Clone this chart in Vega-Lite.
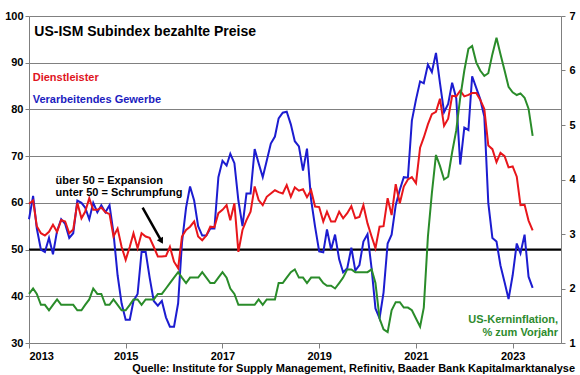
{
  "$schema": "https://vega.github.io/schema/vega-lite/v6.json",
  "width": 532,
  "height": 327,
  "autosize": {"type": "none"},
  "padding": {"left": 29, "top": 16, "right": 19, "bottom": 32},
  "background": "#ffffff",
  "config": {
    "font": "Liberation Sans",
    "view": {"stroke": null},
    "axis": {"labelFont": "Liberation Sans", "labelFontSize": 11, "labelFontWeight": "bold", "labelColor": "#000000", "domainColor": "#7f7f7f", "tickColor": "#7f7f7f", "domainWidth": 1, "tickWidth": 1}
  },
  "title": {"text": "Quelle: Institute for Supply Management, Refinitiv, Baader Bank Kapitalmarktanalyse", "orient": "bottom", "anchor": "end", "frame": "bounds", "fontSize": 11, "fontWeight": "bold", "color": "#000000", "font": "Liberation Sans", "offset": 2},
  "data": {"values": [
    {"date": "2013-01-01", "services": 59.8, "manufacturing": 56.5, "core": 1.9},
    {"date": "2013-02-01", "services": 60.5, "manufacturing": 61.5, "core": 2.0},
    {"date": "2013-03-01", "services": 55.0, "manufacturing": 54.5, "core": 1.9},
    {"date": "2013-04-01", "services": 53.5, "manufacturing": 50.0, "core": 1.7},
    {"date": "2013-05-01", "services": 53.0, "manufacturing": 49.5, "core": 1.7},
    {"date": "2013-06-01", "services": 53.8, "manufacturing": 52.5, "core": 1.6},
    {"date": "2013-07-01", "services": 55.3, "manufacturing": 49.0, "core": 1.7},
    {"date": "2013-08-01", "services": 53.8, "manufacturing": 54.0, "core": 1.8},
    {"date": "2013-09-01", "services": 56.3, "manufacturing": 56.5, "core": 1.7},
    {"date": "2013-10-01", "services": 56.0, "manufacturing": 55.5, "core": 1.7},
    {"date": "2013-11-01", "services": 53.5, "manufacturing": 52.5, "core": 1.7},
    {"date": "2013-12-01", "services": 54.3, "manufacturing": 53.5, "core": 1.7},
    {"date": "2014-01-01", "services": 60.0, "manufacturing": 60.5, "core": 1.6},
    {"date": "2014-02-01", "services": 56.7, "manufacturing": 60.0, "core": 1.6},
    {"date": "2014-03-01", "services": 58.1, "manufacturing": 59.0, "core": 1.7},
    {"date": "2014-04-01", "services": 61.0, "manufacturing": 56.5, "core": 1.8},
    {"date": "2014-05-01", "services": 58.5, "manufacturing": 60.0, "core": 2.0},
    {"date": "2014-06-01", "services": 58.5, "manufacturing": 58.0, "core": 1.9},
    {"date": "2014-07-01", "services": 59.0, "manufacturing": 59.5, "core": 1.9},
    {"date": "2014-08-01", "services": 58.0, "manufacturing": 58.0, "core": 1.7},
    {"date": "2014-09-01", "services": 57.6, "manufacturing": 59.5, "core": 1.7},
    {"date": "2014-10-01", "services": 52.8, "manufacturing": 53.5, "core": 1.8},
    {"date": "2014-11-01", "services": 54.5, "manufacturing": 44.5, "core": 1.7},
    {"date": "2014-12-01", "services": 50.6, "manufacturing": 38.5, "core": 1.6},
    {"date": "2015-01-01", "services": 47.8, "manufacturing": 35.0, "core": 1.6},
    {"date": "2015-02-01", "services": 50.6, "manufacturing": 35.0, "core": 1.7},
    {"date": "2015-03-01", "services": 53.5, "manufacturing": 39.0, "core": 1.8},
    {"date": "2015-04-01", "services": 50.3, "manufacturing": 40.5, "core": 1.8},
    {"date": "2015-05-01", "services": 53.5, "manufacturing": 49.5, "core": 1.7},
    {"date": "2015-06-01", "services": 52.8, "manufacturing": 49.5, "core": 1.8},
    {"date": "2015-07-01", "services": 52.5, "manufacturing": 44.0, "core": 1.8},
    {"date": "2015-08-01", "services": 50.6, "manufacturing": 39.0, "core": 1.8},
    {"date": "2015-09-01", "services": 48.5, "manufacturing": 38.0, "core": 1.9},
    {"date": "2015-10-01", "services": 48.5, "manufacturing": 39.0, "core": 1.9},
    {"date": "2015-11-01", "services": 48.6, "manufacturing": 35.5, "core": 2.0},
    {"date": "2015-12-01", "services": 50.6, "manufacturing": 33.5, "core": 2.1},
    {"date": "2016-01-01", "services": 47.4, "manufacturing": 33.5, "core": 2.2},
    {"date": "2016-02-01", "services": 46.0, "manufacturing": 38.5, "core": 2.3},
    {"date": "2016-03-01", "services": 52.8, "manufacturing": 51.5, "core": 2.2},
    {"date": "2016-04-01", "services": 54.2, "manufacturing": 59.0, "core": 2.1},
    {"date": "2016-05-01", "services": 54.9, "manufacturing": 63.5, "core": 2.2},
    {"date": "2016-06-01", "services": 56.0, "manufacturing": 60.5, "core": 2.2},
    {"date": "2016-07-01", "services": 52.8, "manufacturing": 55.0, "core": 2.2},
    {"date": "2016-08-01", "services": 52.0, "manufacturing": 53.0, "core": 2.3},
    {"date": "2016-09-01", "services": 53.0, "manufacturing": 53.0, "core": 2.2},
    {"date": "2016-10-01", "services": 54.9, "manufacturing": 54.5, "core": 2.1},
    {"date": "2016-11-01", "services": 54.8, "manufacturing": 54.5, "core": 2.1},
    {"date": "2016-12-01", "services": 57.8, "manufacturing": 65.5, "core": 2.2},
    {"date": "2017-01-01", "services": 58.5, "manufacturing": 69.0, "core": 2.3},
    {"date": "2017-02-01", "services": 59.5, "manufacturing": 68.0, "core": 2.2},
    {"date": "2017-03-01", "services": 56.3, "manufacturing": 70.5, "core": 2.0},
    {"date": "2017-04-01", "services": 59.9, "manufacturing": 68.5, "core": 1.9},
    {"date": "2017-05-01", "services": 49.5, "manufacturing": 60.5, "core": 1.7},
    {"date": "2017-06-01", "services": 54.2, "manufacturing": 55.0, "core": 1.7},
    {"date": "2017-07-01", "services": 56.3, "manufacturing": 62.0, "core": 1.7},
    {"date": "2017-08-01", "services": 58.1, "manufacturing": 62.0, "core": 1.7},
    {"date": "2017-09-01", "services": 63.5, "manufacturing": 71.5, "core": 1.7},
    {"date": "2017-10-01", "services": 60.6, "manufacturing": 68.5, "core": 1.8},
    {"date": "2017-11-01", "services": 59.5, "manufacturing": 65.5, "core": 1.7},
    {"date": "2017-12-01", "services": 61.3, "manufacturing": 69.0, "core": 1.8},
    {"date": "2018-01-01", "services": 62.0, "manufacturing": 72.7, "core": 1.8},
    {"date": "2018-02-01", "services": 62.7, "manufacturing": 74.2, "core": 1.8},
    {"date": "2018-03-01", "services": 62.3, "manufacturing": 78.1, "core": 2.1},
    {"date": "2018-04-01", "services": 62.0, "manufacturing": 79.3, "core": 2.1},
    {"date": "2018-05-01", "services": 63.8, "manufacturing": 79.5, "core": 2.2},
    {"date": "2018-06-01", "services": 61.3, "manufacturing": 76.8, "core": 2.3},
    {"date": "2018-07-01", "services": 63.3, "manufacturing": 73.2, "core": 2.35},
    {"date": "2018-08-01", "services": 62.6, "manufacturing": 72.1, "core": 2.2},
    {"date": "2018-09-01", "services": 62.9, "manufacturing": 66.9, "core": 2.2},
    {"date": "2018-10-01", "services": 61.2, "manufacturing": 71.6, "core": 2.1},
    {"date": "2018-11-01", "services": 62.7, "manufacturing": 60.7, "core": 2.2},
    {"date": "2018-12-01", "services": 59.2, "manufacturing": 54.9, "core": 2.2},
    {"date": "2019-01-01", "services": 59.1, "manufacturing": 49.6, "core": 2.2},
    {"date": "2019-02-01", "services": 56.0, "manufacturing": 49.4, "core": 2.1},
    {"date": "2019-03-01", "services": 58.1, "manufacturing": 54.3, "core": 2.05},
    {"date": "2019-04-01", "services": 56.0, "manufacturing": 50.0, "core": 2.05},
    {"date": "2019-05-01", "services": 56.0, "manufacturing": 53.2, "core": 2.0},
    {"date": "2019-06-01", "services": 58.1, "manufacturing": 47.9, "core": 2.1},
    {"date": "2019-07-01", "services": 56.7, "manufacturing": 45.1, "core": 2.2},
    {"date": "2019-08-01", "services": 57.8, "manufacturing": 46.0, "core": 2.35},
    {"date": "2019-09-01", "services": 59.3, "manufacturing": 50.4, "core": 2.35},
    {"date": "2019-10-01", "services": 56.7, "manufacturing": 45.5, "core": 2.3},
    {"date": "2019-11-01", "services": 57.0, "manufacturing": 46.7, "core": 2.3},
    {"date": "2019-12-01", "services": 59.5, "manufacturing": 51.7, "core": 2.3},
    {"date": "2020-01-01", "services": 55.6, "manufacturing": 53.3, "core": 2.3},
    {"date": "2020-02-01", "services": 52.8, "manufacturing": 45.9, "core": 2.35},
    {"date": "2020-03-01", "services": 50.3, "manufacturing": 37.4, "core": 2.1},
    {"date": "2020-04-01", "services": 54.9, "manufacturing": 35.3, "core": 1.45},
    {"date": "2020-05-01", "services": 55.0, "manufacturing": 40.8, "core": 1.25},
    {"date": "2020-06-01", "services": 61.0, "manufacturing": 51.3, "core": 1.2},
    {"date": "2020-07-01", "services": 57.4, "manufacturing": 53.2, "core": 1.6},
    {"date": "2020-08-01", "services": 64.0, "manufacturing": 59.5, "core": 1.75},
    {"date": "2020-09-01", "services": 59.9, "manufacturing": 62.8, "core": 1.75},
    {"date": "2020-10-01", "services": 63.5, "manufacturing": 65.5, "core": 1.65},
    {"date": "2020-11-01", "services": 65.0, "manufacturing": 65.4, "core": 1.65},
    {"date": "2020-12-01", "services": 65.5, "manufacturing": 77.6, "core": 1.6},
    {"date": "2021-01-01", "services": 64.2, "manufacturing": 82.1, "core": 1.45},
    {"date": "2021-02-01", "services": 71.8, "manufacturing": 86.0, "core": 1.3},
    {"date": "2021-03-01", "services": 74.0, "manufacturing": 85.6, "core": 1.65},
    {"date": "2021-04-01", "services": 76.8, "manufacturing": 89.6, "core": 2.95},
    {"date": "2021-05-01", "services": 79.0, "manufacturing": 88.0, "core": 3.75},
    {"date": "2021-06-01", "services": 79.5, "manufacturing": 92.1, "core": 4.45},
    {"date": "2021-07-01", "services": 82.3, "manufacturing": 85.7, "core": 4.25},
    {"date": "2021-08-01", "services": 76.5, "manufacturing": 79.4, "core": 4.0},
    {"date": "2021-09-01", "services": 78.0, "manufacturing": 81.2, "core": 4.05},
    {"date": "2021-10-01", "services": 82.9, "manufacturing": 85.7, "core": 4.5},
    {"date": "2021-11-01", "services": 82.8, "manufacturing": 82.4, "core": 4.9},
    {"date": "2021-12-01", "services": 84.0, "manufacturing": 68.2, "core": 5.5},
    {"date": "2022-01-01", "services": 82.8, "manufacturing": 76.1, "core": 6.0},
    {"date": "2022-02-01", "services": 83.1, "manufacturing": 75.6, "core": 6.4},
    {"date": "2022-03-01", "services": 83.5, "manufacturing": 87.1, "core": 6.45},
    {"date": "2022-04-01", "services": 83.5, "manufacturing": 84.6, "core": 6.15},
    {"date": "2022-05-01", "services": 82.1, "manufacturing": 82.2, "core": 6.0},
    {"date": "2022-06-01", "services": 80.1, "manufacturing": 78.5, "core": 5.9},
    {"date": "2022-07-01", "services": 72.3, "manufacturing": 60.0, "core": 5.95},
    {"date": "2022-08-01", "services": 71.5, "manufacturing": 52.5, "core": 6.3},
    {"date": "2022-09-01", "services": 68.7, "manufacturing": 51.7, "core": 6.6},
    {"date": "2022-10-01", "services": 70.7, "manufacturing": 46.6, "core": 6.3},
    {"date": "2022-11-01", "services": 70.0, "manufacturing": 43.0, "core": 6.0},
    {"date": "2022-12-01", "services": 67.6, "manufacturing": 39.4, "core": 5.7},
    {"date": "2023-01-01", "services": 67.8, "manufacturing": 44.5, "core": 5.6},
    {"date": "2023-02-01", "services": 65.6, "manufacturing": 51.3, "core": 5.55},
    {"date": "2023-03-01", "services": 59.5, "manufacturing": 49.2, "core": 5.58},
    {"date": "2023-04-01", "services": 59.6, "manufacturing": 53.2, "core": 5.5},
    {"date": "2023-05-01", "services": 56.2, "manufacturing": 44.2, "core": 5.3},
    {"date": "2023-06-01", "services": 54.1, "manufacturing": 41.8, "core": 4.8}
  ]},
  "layer": [
    {
      "layer": [
        {
          "data": {"values": [{}]},
          "mark": {"type": "rule", "color": "#000000", "strokeWidth": 2},
          "encoding": {"y": {"datum": 50, "type": "quantitative", "scale": {"domain": [30, 100]}}}
        },
        {
          "mark": {"type": "line", "color": "#1c1cd0", "strokeWidth": 2},
          "encoding": {
            "x": {"field": "date", "type": "temporal", "title": null,
              "scale": {"type": "utc", "domain": [{"year": 2013, "month": 1, "date": 1, "utc": true}, {"year": 2024, "month": 1, "date": 1, "utc": true}]},
              "axis": {"values": [{"year": 2013, "utc": true}, {"year": 2015, "utc": true}, {"year": 2017, "utc": true}, {"year": 2019, "utc": true}, {"year": 2021, "utc": true}, {"year": 2023, "utc": true}], "format": "%Y", "grid": false, "tickSize": 5, "labelPadding": 2}},
            "y": {"field": "manufacturing", "type": "quantitative", "title": null,
              "scale": {"domain": [30, 100]},
              "axis": {"values": [30, 40, 50, 60, 70, 80, 90, 100], "grid": true, "gridColor": "#808080", "gridWidth": 1, "tickSize": 4, "labelPadding": 2}}
          }
        },
        {
          "mark": {"type": "line", "color": "#e8161b", "strokeWidth": 2},
          "encoding": {
            "x": {"field": "date", "type": "temporal", "title": null},
            "y": {"field": "services", "type": "quantitative", "title": null, "scale": {"domain": [30, 100]}}
          }
        },
        {
          "data": {"values": [{}]},
          "mark": {"type": "rule", "color": "#000000", "strokeWidth": 2.5},
          "encoding": {
            "x": {"datum": {"year": 2015, "month": 5, "date": 9, "utc": true}, "type": "temporal"},
            "x2": {"datum": {"year": 2015, "month": 9, "date": 24, "utc": true}},
            "y": {"datum": 59.0, "type": "quantitative", "scale": {"domain": [30, 100]}},
            "y2": {"datum": 52.0}
          }
        },
        {
          "data": {"values": [{}]},
          "mark": {"type": "point", "shape": "triangle", "filled": true, "size": 50, "angle": 151, "color": "#000000", "opacity": 1},
          "encoding": {
            "x": {"datum": {"year": 2015, "month": 9, "date": 24, "utc": true}, "type": "temporal"},
            "y": {"datum": 52.0, "type": "quantitative", "scale": {"domain": [30, 100]}}
          }
        },
        {
          "data": {"values": [{}]},
          "mark": {"type": "text", "text": "US-ISM Subindex bezahlte Preise", "fontSize": 14, "fontWeight": "bold", "align": "left", "baseline": "alphabetic", "color": "#000000"},
          "encoding": {
            "x": {"datum": {"year": 2013, "month": 2, "date": 10, "utc": true}, "type": "temporal"},
            "y": {"datum": 95.7, "type": "quantitative", "scale": {"domain": [30, 100]}}
          }
        },
        {
          "data": {"values": [{}]},
          "mark": {"type": "text", "text": "Dienstleister", "fontSize": 11, "fontWeight": "bold", "align": "left", "baseline": "alphabetic", "color": "#e0141e"},
          "encoding": {
            "x": {"datum": {"year": 2013, "month": 1, "date": 29, "utc": true}, "type": "temporal"},
            "y": {"datum": 86.1, "type": "quantitative", "scale": {"domain": [30, 100]}}
          }
        },
        {
          "data": {"values": [{}]},
          "mark": {"type": "text", "text": "Verarbeitendes Gewerbe", "fontSize": 11, "fontWeight": "bold", "align": "left", "baseline": "alphabetic", "color": "#1c1cc0"},
          "encoding": {
            "x": {"datum": {"year": 2013, "month": 1, "date": 29, "utc": true}, "type": "temporal"},
            "y": {"datum": 81.4, "type": "quantitative", "scale": {"domain": [30, 100]}}
          }
        },
        {
          "data": {"values": [{}]},
          "mark": {"type": "text", "text": "über 50 = Expansion", "fontSize": 11, "fontWeight": "bold", "align": "left", "baseline": "alphabetic", "color": "#000000"},
          "encoding": {
            "x": {"datum": {"year": 2013, "month": 7, "date": 21, "utc": true}, "type": "temporal"},
            "y": {"datum": 64.0, "type": "quantitative", "scale": {"domain": [30, 100]}}
          }
        },
        {
          "data": {"values": [{}]},
          "mark": {"type": "text", "text": "unter 50 = Schrumpfung", "fontSize": 11, "fontWeight": "bold", "align": "left", "baseline": "alphabetic", "color": "#000000"},
          "encoding": {
            "x": {"datum": {"year": 2013, "month": 7, "date": 21, "utc": true}, "type": "temporal"},
            "y": {"datum": 61.5, "type": "quantitative", "scale": {"domain": [30, 100]}}
          }
        },
        {
          "data": {"values": [{}]},
          "mark": {"type": "text", "text": "US-Kerninflation,", "fontSize": 11, "fontWeight": "bold", "align": "right", "baseline": "alphabetic", "color": "#2e8b2e"},
          "encoding": {
            "x": {"datum": {"year": 2023, "month": 12, "date": 10, "utc": true}, "type": "temporal"},
            "y": {"datum": 34.2, "type": "quantitative", "scale": {"domain": [30, 100]}}
          }
        },
        {
          "data": {"values": [{}]},
          "mark": {"type": "text", "text": "% zum Vorjahr", "fontSize": 11, "fontWeight": "bold", "align": "right", "baseline": "alphabetic", "color": "#2e8b2e"},
          "encoding": {
            "x": {"datum": {"year": 2023, "month": 12, "date": 10, "utc": true}, "type": "temporal"},
            "y": {"datum": 31.6, "type": "quantitative", "scale": {"domain": [30, 100]}}
          }
        }
      ]
    },
    {
      "mark": {"type": "line", "color": "#2a8c2a", "strokeWidth": 2},
      "encoding": {
        "x": {"field": "date", "type": "temporal", "title": null},
        "y": {"field": "core", "type": "quantitative", "title": null,
          "scale": {"domain": [1, 7]},
          "axis": {"orient": "right", "values": [1, 2, 3, 4, 5, 6, 7], "grid": false, "tickSize": 4, "labelPadding": 4}}
      }
    }
  ],
  "resolve": {"scale": {"y": "independent"}}
}
